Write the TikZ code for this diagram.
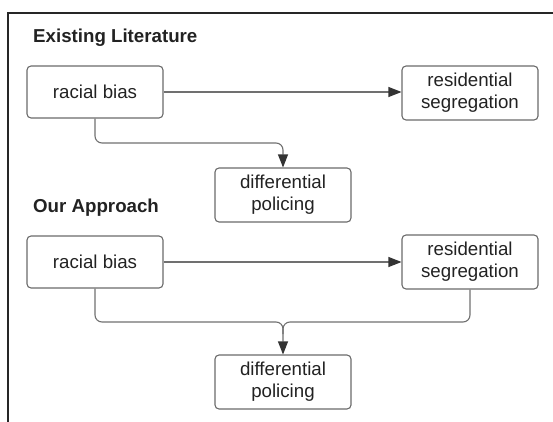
\documentclass[tikz,border=0pt]{standalone}
\usepackage{fontspec}
\setmainfont{Liberation Sans}
\usetikzlibrary{arrows.meta}
\definecolor{boxline}{HTML}{6A6A6A}
\definecolor{arrline}{HTML}{707070}
\definecolor{tipcol}{HTML}{333333}
\definecolor{txt}{HTML}{222222}
\tikzset{
  box/.style={draw=boxline, line width=1.1pt, rounded corners=4pt, minimum width=136pt, minimum height=#1, align=center, text=txt, font=\fontsize{18.7}{22}\selectfont, inner sep=0pt},
  box/.default=52pt,
  arr/.style={draw=arrline, line width=1.1pt, rounded corners=7pt, -{Triangle[length=13pt,width=10pt,color=tipcol]}},
  conn/.style={draw=arrline, line width=1.1pt, rounded corners=7pt},
  title/.style={anchor=west, text=txt, font=\fontsize{18.7}{22}\selectfont\bfseries, inner sep=0pt}
}
\begin{document}
\begin{tikzpicture}[x=1pt,y=-1pt]
\useasboundingbox (0,0) rectangle (553,422);
\draw[line width=2pt, black!85] (8,422) -- (8,13) -- (553,13);
\node[title] (t1) at (33,38) {Existing Literature};
\node[box] (rb1) at (95,92) {racial bias};
\node[box=54pt] (rs1) at (470,93) {residential\\segregation};
\node[box=54pt] (dp1) at (283,195) {differential\\policing};
\draw[arr] (rb1.east |- 0,92) -- (rs1.west |- 0,92);
\coordinate (j1) at (283,143);
\draw[arr] (rb1.south) |- (j1) -- (dp1.north);
\node[title] (t2) at (33,208) {Our Approach};
\node[box] (rb2) at (95,262) {racial bias};
\node[box=54pt] (rs2) at (470,262) {residential\\segregation};
\node[box=54pt] (dp2) at (283,382) {differential\\policing};
\draw[arr] (rb2.east) -- (rs2.west);
\coordinate (j2) at (283,322);
\draw[arr] (rb2.south) |- (j2) -- (dp2.north);
\draw[conn] (rs2.south) |- (j2) -- ([yshift=-12pt]j2);
\end{tikzpicture}
\end{document}
